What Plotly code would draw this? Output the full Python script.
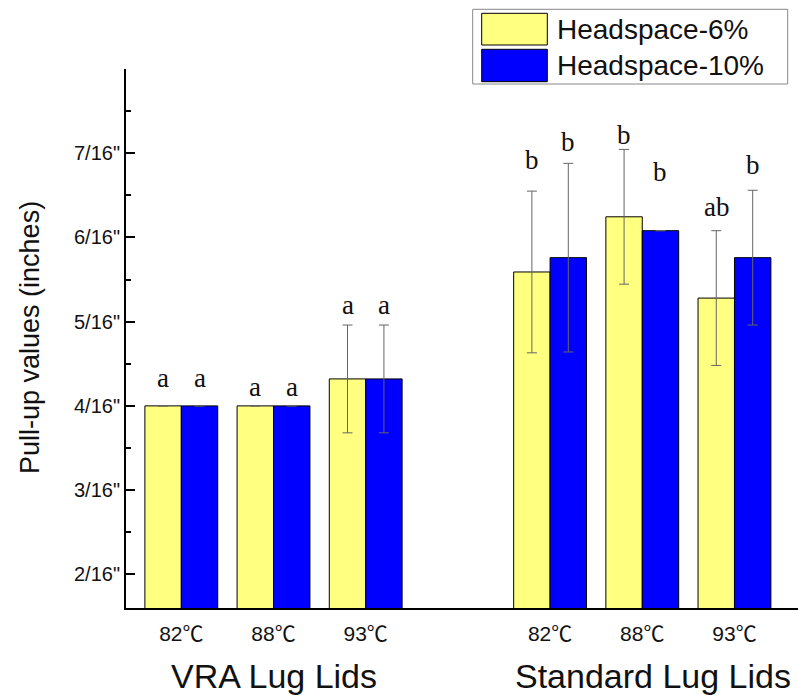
import plotly.graph_objects as go

# ---- data (pull-up values in sixteenths of an inch) ----
categories = ["82℃", "88℃", "93℃", "", "82℃", "88℃", "93℃"]   # "" = empty slot between lid groups
groups = ["VRA Lug Lids", "Standard Lug Lids"]
series_names = ["Headspace-6%", "Headspace-10%"]

hs6_values = [4.0, 4.0, 4.32, None, 5.59, 6.245, 5.28]
hs10_values = [4.0, 4.0, 4.32, None, 5.76, 6.08, 5.76]
hs6_err = [None, None, 0.64, None, 0.96, 0.80, 0.80]
hs10_err = [None, None, 0.64, None, 1.12, None, 0.80]

hs6_letters = ["a", "a", "a", "", "b", "b", "ab"]
hs10_letters = ["a", "a", "a", "", "b", "b", "b"]
hs6_letter_y = [4.33, 4.23, 5.20, None, 6.92, 7.215, 6.36]
hs10_letter_y = [4.33, 4.23, 5.20, None, 7.135, 6.78, 6.86]

y_tick_vals = [2, 3, 4, 5, 6, 7, 8]
y_tick_text = ['2/16"', '3/16"', '4/16"', '5/16"', '6/16"', '7/16"', ""]
y_minor_vals = [2.5, 3.5, 4.5, 5.5, 6.5, 7.5]

colors = ["#FFFF80", "#0000FF"]

# ---- layout geometry ----
W, H = 798, 695
L, R, T, B = 126, 0, 69, 87
PW, PH = W - L - R, H - T - B

def px(xp):
    return (xp - L) / PW

def py(yp):
    return (H - B - yp) / PH

def fmt_label(s):
    return s.replace("℃", '<span style="font-family:Noto Sans CJK SC">℃</span>')

positions = list(range(len(categories)))
valid = [i for i, c in enumerate(categories) if c]

fig = go.Figure()
for name, vals, errs, col in [
    (series_names[0], hs6_values, hs6_err, colors[0]),
    (series_names[1], hs10_values, hs10_err, colors[1]),
]:
    fig.add_trace(go.Bar(
        x=[positions[i] for i in valid],
        y=[vals[i] for i in valid],
        name=name,
        marker=dict(color=col, line=dict(color="black", width=1)),
        error_y=dict(type="data", array=[errs[i] for i in valid], visible=True,
                     color="#666666", thickness=1, width=5),
        showlegend=False,
    ))

bar_off = 0.395 / 2
for i in valid:
    for letters, ly, sign in [(hs6_letters, hs6_letter_y, -1), (hs10_letters, hs10_letter_y, 1)]:
        fig.add_annotation(x=positions[i] + sign * bar_off, y=ly[i], text=letters[i],
                           showarrow=False, xanchor="center", yanchor="middle",
                           font=dict(family="Liberation Serif, Times New Roman, serif",
                                     size=27, color="#111111"))

# group labels
vra_center = (positions[0] + positions[2]) / 2
std_center = (positions[4] + positions[6]) / 2
for gx, gname, shift in [(vra_center, groups[0], 0), (std_center, groups[1], 11)]:
    fig.add_annotation(x=gx, xref="x", y=py(676), yref="paper", text=gname, xshift=shift,
                       showarrow=False, xanchor="center", yanchor="middle",
                       font=dict(family="Liberation Sans, Arial, sans-serif", size=34, color="#111111"))

# y title
fig.add_annotation(x=px(30), xref="paper", y=py(338), yref="paper",
                   text="Pull-up values (inches)", textangle=-90, showarrow=False,
                   xanchor="center", yanchor="middle",
                   font=dict(family="Liberation Sans, Arial, sans-serif", size=27, color="#111111"))

# manual legend
fig.add_shape(type="rect", xref="paper", yref="paper",
              x0=px(472.7), x1=px(787.7), y0=py(84), y1=py(9.3),
              line=dict(color="#888888", width=1), fillcolor="white", layer="above")
for k, (y0p, y1p) in enumerate([(13.3, 45), (49.3, 81.7)]):
    fig.add_shape(type="rect", xref="paper", yref="paper",
                  x0=px(481.7), x1=px(547.3), y0=py(y1p), y1=py(y0p),
                  line=dict(color="black", width=1), fillcolor=colors[k], layer="above")
    fig.add_annotation(x=px(555), xref="paper", y=py((y0p + y1p) / 2), yref="paper",
                       text=series_names[k], showarrow=False, xanchor="left", yanchor="middle",
                       font=dict(family="Liberation Sans, Arial, sans-serif", size=28, color="#111111"))

fig.update_layout(
    width=W, height=H,
    margin=dict(l=L, r=R, t=T, b=B, pad=0),
    paper_bgcolor="white", plot_bgcolor="white",
    barmode="group", bargap=0.21, bargroupgap=0,
    font=dict(family="Liberation Sans, Arial, sans-serif", color="#111111"),
    xaxis=dict(
        range=[-0.6, 6.689],
        tickvals=[positions[i] for i in valid],
        ticktext=[fmt_label(categories[i]) for i in valid],
        ticks="", showgrid=False, zeroline=False,
        showline=True, linecolor="black", linewidth=2,
        tickfont=dict(size=21), ticklabelstandoff=6,
    ),
    yaxis=dict(
        range=[1.6, 8.0],
        tickvals=y_tick_vals, ticktext=y_tick_text,
        ticks="inside", ticklen=9, tickwidth=1.5, tickcolor="black",
        minor=dict(tickvals=y_minor_vals, ticks="inside", ticklen=5, tickwidth=1.5, tickcolor="black"),
        showgrid=False, zeroline=False,
        showline=True, linecolor="black", linewidth=2,
        tickfont=dict(size=20),
    ),
)

fig.write_html("out.html")
